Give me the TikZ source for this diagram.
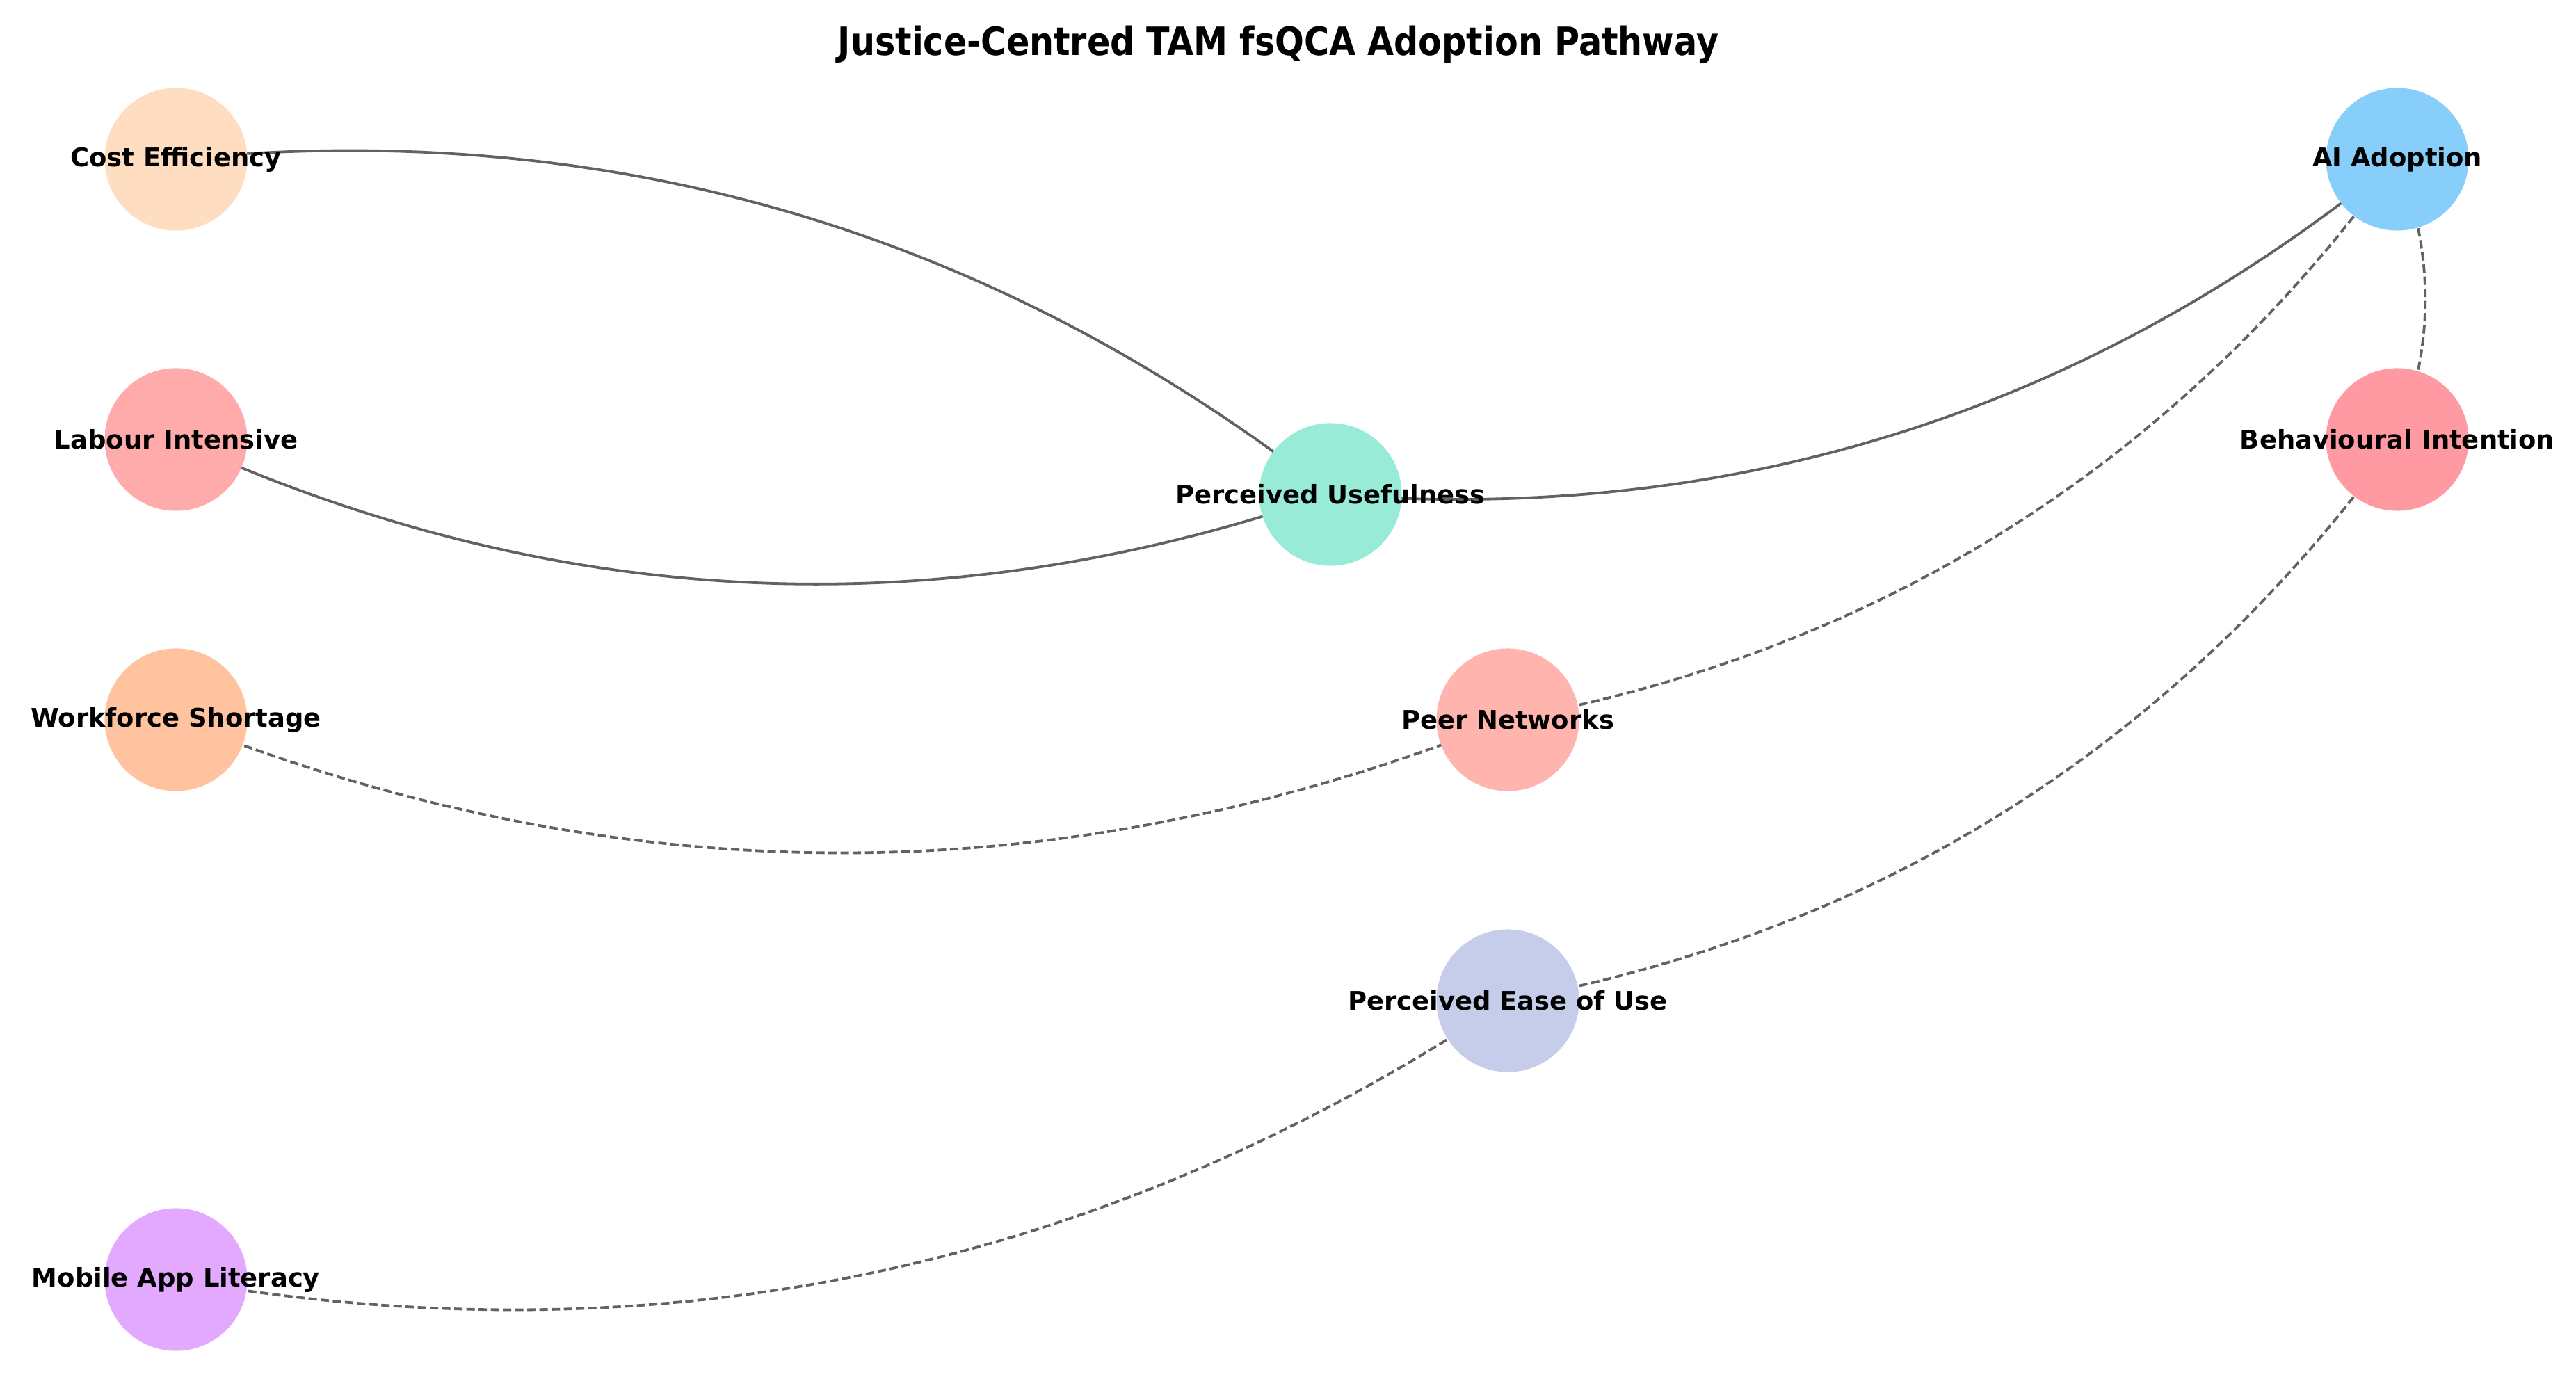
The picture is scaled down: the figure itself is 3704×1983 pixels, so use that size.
\documentclass[tikz,border=0pt]{standalone}
\usepackage{fontspec}
\newfontfamily\lblfont{DejaVu Sans}
\newfontfamily\titlefont[FakeStretch=0.88]{DejaVu Sans}
\usetikzlibrary{calc}
\pgfdeclarelayer{background}
\pgfsetlayers{background,main}
\definecolor{cCE}{HTML}{FFDDC1}
\definecolor{cLI}{HTML}{FFABAB}
\definecolor{cWS}{HTML}{FFC3A0}
\definecolor{cMAL}{HTML}{E2A9FF}
\definecolor{cPU}{HTML}{98EBD6}
\definecolor{cPN}{HTML}{FFB5AD}
\definecolor{cPEOU}{HTML}{C5CDEB}
\definecolor{cAI}{HTML}{87CEFA}
\definecolor{cBI}{HTML}{FF9AA2}
\definecolor{edgegray}{HTML}{626262}
\tikzset{
  nd/.style={circle, minimum size=2.05cm, inner sep=0pt, draw=none},
  lbl/.style={font=\lblfont\bfseries\fontsize{10.5}{12}\selectfont, text=black, inner sep=0pt},
  solidedge/.style={draw=edgegray, line width=0.038cm},
  dashedge/.style={draw=edgegray, line width=0.038cm, dash pattern=on 0.12cm off 0.055cm},
}
% quadratic arc (control point offset 0.2 x chord, clockwise side), like arc3 rad=0.2
\newcommand{\arcedge}[4]{%
  \path ($(#2)!0.5!(#3)$) coordinate (tmpm);
  \path ($(tmpm)!0.4!#4:(#3)$) coordinate (tmpc);
  \draw[#1] (#2.center) .. controls ($(#2)!0.6667!(tmpc)$) and ($(#3)!0.6667!(tmpc)$) .. (#3.center);
}
\begin{document}
\begin{tikzpicture}[x=0.01cm, y=-0.01cm]
\useasboundingbox (0,0) rectangle (3704,1983);

\node[font=\titlefont\bfseries\fontsize{15.9}{18}\selectfont, inner sep=0pt] (title) at (1838,64) {Justice-Centred TAM fsQCA Adoption Pathway};

% circles
\node[nd, fill=cCE]   (ce)   at (253,229)  {};
\node[nd, fill=cLI]   (li)   at (253,632)  {};
\node[nd, fill=cWS]   (ws)   at (253,1035) {};
\node[nd, fill=cMAL]  (mal)  at (253,1840) {};
\node[nd, fill=cPU]   (pu)   at (1913,711) {};
\node[nd, fill=cPN]   (pn)   at (2168,1035) {};
\node[nd, fill=cPEOU] (peou) at (2168,1439) {};
\node[nd, fill=cAI]   (ai)   at (3447,229) {};
\node[nd, fill=cBI]   (bi)   at (3447,632) {};

% labels
\node[lbl] (tce)   at (ce)   {Cost Efficiency};
\node[lbl] (tli)   at (li)   {Labour Intensive};
\node[lbl] (tws)   at (ws)   {Workforce Shortage};
\node[lbl] (tmal)  at (mal)  {Mobile App Literacy};
\node[lbl] (tpu)   at (pu)   {Perceived Usefulness};
\node[lbl] (tpn)   at (pn)   {Peer Networks};
\node[lbl] (tpeou) at (peou) {Perceived Ease of Use};
\node[lbl] (tai)   at (ai)   {AI Adoption};
\node[lbl] (tbi)   at (bi)   {Behavioural Intention};

% white page and edges, behind the circles
\begin{pgfonlayer}{background}
\fill[white] (0,0) rectangle (3704,1983);
\arcedge{solidedge}{pu}{ce}{-90}
\arcedge{solidedge}{li}{pu}{-90}
\arcedge{solidedge}{pu}{ai}{-90}
\arcedge{dashedge}{ws}{pn}{-90}
\arcedge{dashedge}{mal}{peou}{-90}
\arcedge{dashedge}{pn}{ai}{-90}
\arcedge{dashedge}{bi}{ai}{-90}
\arcedge{dashedge}{peou}{bi}{-90}
\end{pgfonlayer}
\end{tikzpicture}
\end{document}
